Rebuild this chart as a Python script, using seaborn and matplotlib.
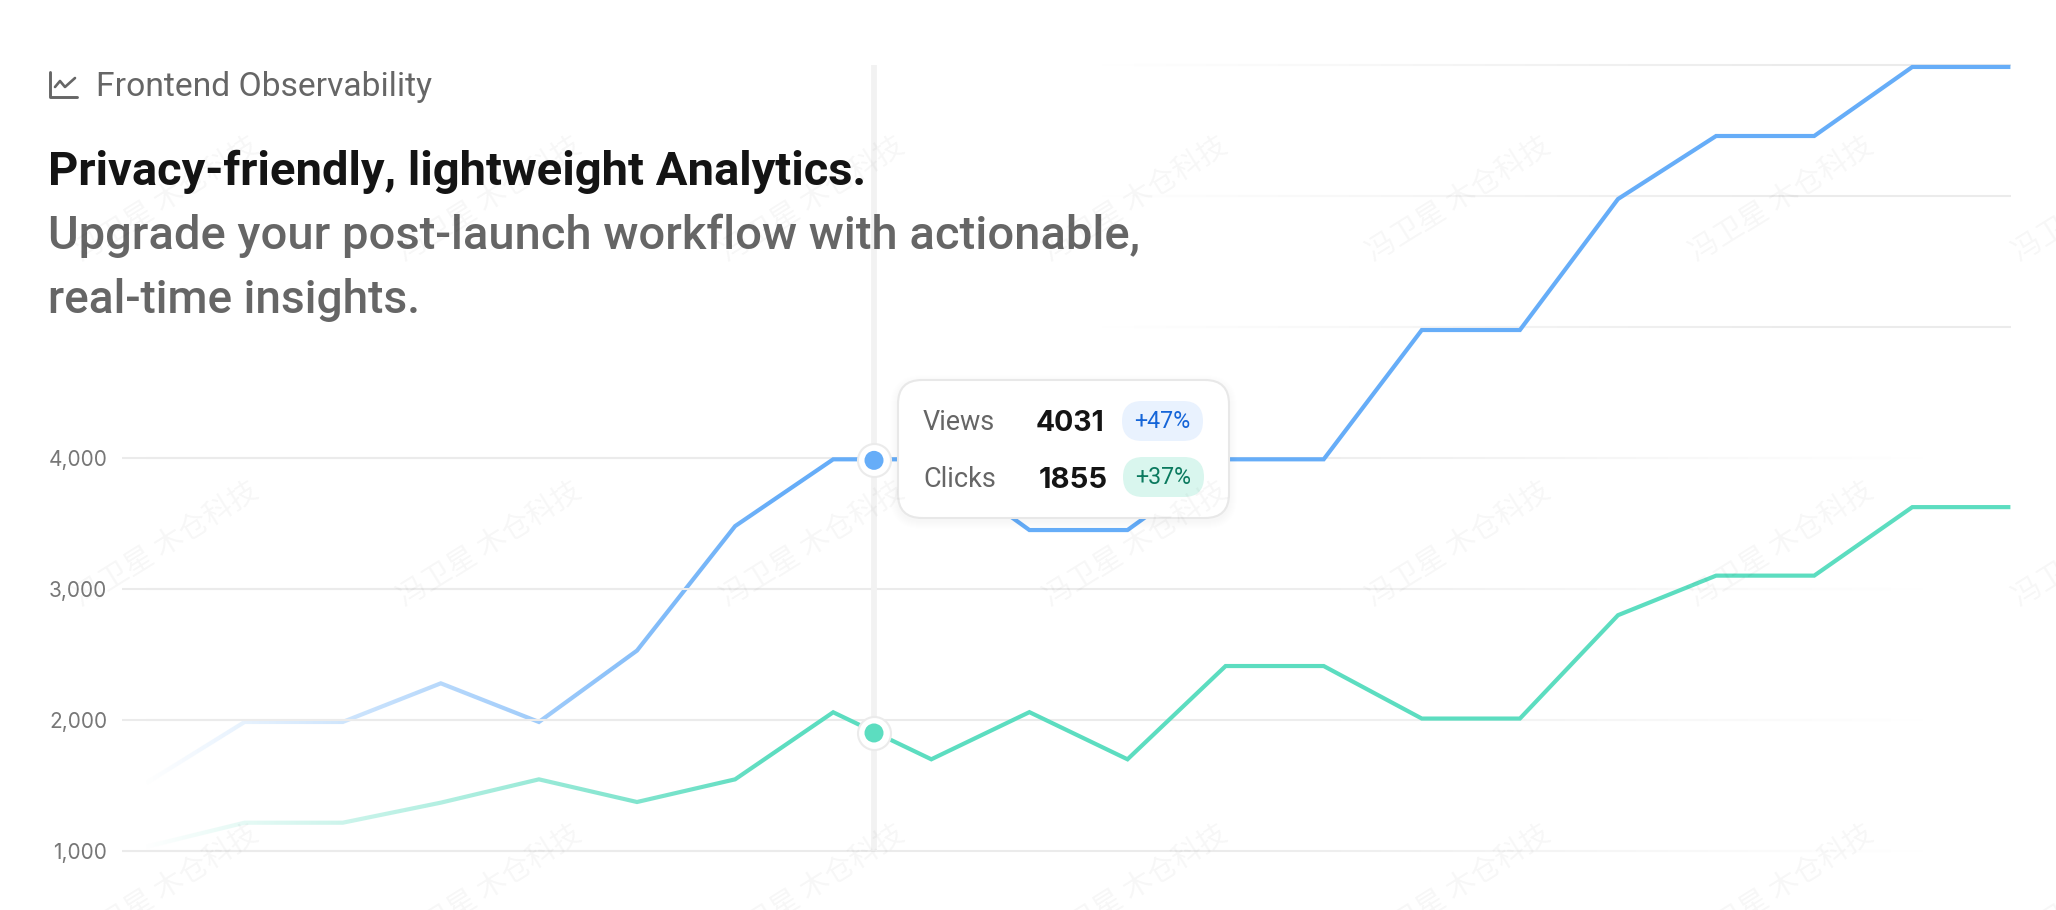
import numpy as np
import pandas as pd
import matplotlib
matplotlib.use("Agg")
import matplotlib.pyplot as plt
import seaborn as sns
from matplotlib.collections import LineCollection
from matplotlib.patches import FancyBboxPatch

# ---- data ----
steps = list(range(20))
views = [1520, 1985, 1985, 2280, 1985, 2530, 3480, 3990, 3990, 3450, 3450, 3990, 3990,
         4977, 4977, 5977, 6458, 6458, 6985, 6985]
clicks = [1033, 1216, 1216, 1369, 1547, 1374, 1547, 2059, 1700, 2060, 1700, 2412, 2412,
          2011, 2011, 2800, 3102, 3102, 3625, 3625]
hover_step = 7.416
hover_views = 3982
hover_clicks = 1901
grid_values = [1000, 2000, 3000, 4000, 5000, 6000, 7000]
tick_values = [1000, 2000, 3000, 4000]
tick_labels = ["1,000", "2,000", "3,000", "4,000"]

BLUE = "#66ADF8"
GREEN = "#5CDDC0"
GRID = "#EBEBEB"
W, H = 2056, 910

sns.set_theme(style="white")
plt.rcParams["font.family"] = ["Inter", "DejaVu Sans"]

fig = plt.figure(figsize=(W / 100, H / 100), dpi=100, facecolor="white")
L, R, T, B = 122, 2011, 65, 851
ax = fig.add_axes([L / W, (H - B) / H, (R - L) / W, (B - T) / H])
X0, DX = 146.5, 98.1
ax.set_xlim((L - X0) / DX, (R - X0) / DX)
ax.set_ylim(1000, 7000)
ax.set_facecolor("none")
sns.despine(ax=ax, left=True, bottom=True)
ax.set_xticks([])
ax.set_yticks(tick_values)
ax.set_yticklabels(tick_labels, color="#777777", fontsize=15)
ax.tick_params(axis="y", length=0, pad=10.5)


def px_to_x(px):
    return (px - X0) / DX


def grid_alpha(xs_px, value):
    if value <= 4000:
        return np.clip((1925 - xs_px) / (1925 - 1200), 0, 1)
    return np.clip((xs_px - 1100) / (1800 - 1100), 0, 1)


def draw_grid(x_from, x_to, z):
    rgb = matplotlib.colors.to_rgb(GRID)
    for v in grid_values:
        edges = np.linspace(x_from, x_to, int((x_to - x_from) / 8) + 2)
        mids = (edges[:-1] + edges[1:]) / 2
        a = grid_alpha(mids, v)
        segs = [[(px_to_x(edges[i]), v), (px_to_x(edges[i + 1]), v)] for i in range(len(mids))]
        cols = [(*rgb, ai) for ai in a]
        ax.add_collection(LineCollection(segs, colors=cols, linewidths=1.5, zorder=z,
                                         clip_on=False, capstyle="butt"), autolim=False)


draw_grid(L, R, 1)

# hover rule
ax.plot([hover_step, hover_step], [1000, 7000], color="#F2F2F2", lw=4.2, zorder=1.5,
        solid_capstyle="butt", clip_on=False)

df = pd.DataFrame({
    "step": steps * 2,
    "value": views + clicks,
    "series": ["Views"] * len(views) + ["Clicks"] * len(clicks),
})
sns.lineplot(data=df, x="step", y="value", hue="series", palette={"Views": BLUE, "Clicks": GREEN},
             legend=False, linewidth=3.0, ax=ax, zorder=2, errorbar=None, estimator=None, sort=False)
for ln in ax.get_lines():
    ln.set_clip_on(False)
    ln.set_solid_joinstyle("miter")
    ln.set_solid_capstyle("butt")
ax.set_xlabel("")
ax.set_ylabel("")

# left-to-right fade of the series
FADE_L, FADE_R = 122, 780
grad = np.zeros((1, 256, 4))
grad[..., :3] = 1.0
t = np.linspace(0, 1, 256)
grad[0, :, 3] = np.clip(1 - (t * (FADE_R - FADE_L) + FADE_L - X0) / (FADE_R - X0), 0, 1)
ax.imshow(grad, extent=[px_to_x(FADE_L), px_to_x(FADE_R), 1000, 7000], aspect="auto",
          zorder=3, interpolation="bilinear")
ax.set_xlim((L - X0) / DX, (R - X0) / DX)
ax.set_ylim(1000, 7000)
draw_grid(L, FADE_R, 4)

# hover markers
sns.scatterplot(x=[hover_step], y=[hover_views], s=(33 * .72) ** 2, color="white",
                edgecolor="#EBEBEB", linewidth=1.5, ax=ax, zorder=5, clip_on=False, legend=False)
sns.scatterplot(x=[hover_step], y=[hover_views], s=(19 * .72) ** 2, color=BLUE,
                edgecolor="none", linewidth=0, ax=ax, zorder=6, clip_on=False, legend=False)
sns.scatterplot(x=[hover_step], y=[hover_clicks], s=(33 * .72) ** 2, color="white",
                edgecolor="#EBEBEB", linewidth=1.5, ax=ax, zorder=5, clip_on=False, legend=False)
sns.scatterplot(x=[hover_step], y=[hover_clicks], s=(19 * .72) ** 2, color=GREEN,
                edgecolor="none", linewidth=0, ax=ax, zorder=6, clip_on=False, legend=False)

# ---- overlay in pixel coordinates for title, tooltip, watermark ----
ov = fig.add_axes([0, 0, 1, 1], facecolor="none", zorder=10)
ov.set_xlim(0, W)
ov.set_ylim(H, 0)
ov.axis("off")
renderer = fig.canvas.get_renderer()


def fit_text(x, y, s, width, size, **kw):
    """Place a text and scale its size so it spans the width seen in the picture."""
    tx = ov.text(x, y, s, fontsize=size, va="baseline", ha="left", **kw)
    w = tx.get_window_extent(renderer).width
    tx.set_fontsize(size * width / w)
    return tx


fit_text(96, 96, "Frontend Observability", 336, 21, color="#666666", family="Roboto")
fit_text(48, 185, "Privacy-friendly, lightweight Analytics.", 820, 33, color="#141414",
         family="Roboto", fontweight="bold")
fit_text(48, 249, "Upgrade your post-launch workflow with actionable,", 1091, 33, color="#666666",
         family="Roboto", fontweight="medium")
fit_text(48, 313, "real-time insights.", 372, 33, color="#666666", family="Roboto", fontweight="medium")

# icon
ov.plot([50, 50, 77], [72, 97, 97], color="#666666", lw=2.1, solid_joinstyle="round")
ov.plot([55, 60, 65, 75], [87, 81, 87, 78], color="#666666", lw=1.9, solid_joinstyle="round")


def rbox(x0, y0, x1, y1, r, **kw):
    p = FancyBboxPatch((x0, y0), x1 - x0, y1 - y0, boxstyle=f"round,pad=0,rounding_size={r}", **kw)
    ov.add_patch(p)
    return p


# tooltip shadow + card
for g in range(1, 9):
    rbox(898 - g, 380 - g + 3, 1229 + g, 518 + g + 3, 24 + g, fc="black", ec="none", alpha=0.0035)
rbox(898, 380, 1229, 518, 24, fc="white", ec="#E8E8E8", lw=1.5)

fit_text(923, 430, "Views", 72, 18, color="#666666", family="Roboto")
fit_text(923, 487, "Clicks", 73, 18, color="#666666", family="Roboto")
fit_text(1036, 431, "4031", 69, 17, color="#141414", family="Inter", fontweight="bold")
fit_text(1039, 488, "1855", 69, 17, color="#141414", family="Inter", fontweight="bold")

rbox(1122, 401, 1203, 441, 20, fc="#E9F2FE", ec="none")
rbox(1123, 457, 1204, 497, 20, fc="#D9F6EE", ec="none")
fit_text(1134, 428, "+47%", 56, 15, color="#1565D8", family="Roboto")
fit_text(1135, 484, "+37%", 56, 15, color="#0B7A5F", family="Roboto")

# watermark
for row_y in (200, 545, 888):
    for col_x in (167, 490, 813, 1136, 1459, 1782, 2105):
        ov.text(col_x, row_y, "冯卫星 木仓科技", fontsize=21, color="black", alpha=0.035,
                family="Noto Sans CJK SC", rotation=32, rotation_mode="anchor",
                ha="center", va="center", clip_on=True)

fig.savefig("out.png", dpi=100, facecolor="white")
